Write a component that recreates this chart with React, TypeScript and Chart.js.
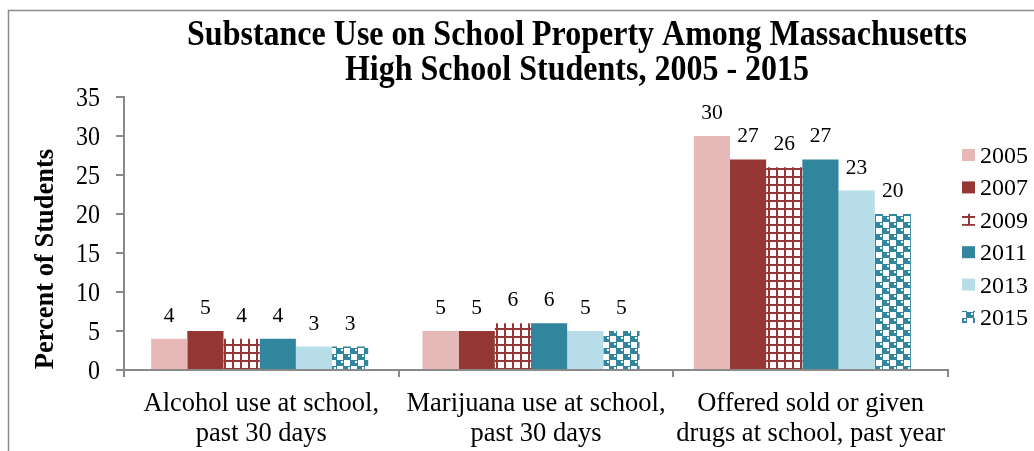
import React, { useEffect, useRef } from 'react';
import { Chart, registerables } from 'chart.js';

Chart.register(...registerables);

const titleLines = ['Substance Use on School Property Among Massachusetts', 'High School Students, 2005 - 2015'];
const yAxisTitle = 'Percent of Students';
const categories = [
  ['Alcohol use at school,', 'past 30 days'],
  ['Marijuana use at school,', 'past 30 days'],
  ['Offered sold or given', 'drugs at school, past year'],
];
const years = ['2005', '2007', '2009', '2011', '2013', '2015'];
const values2005 = [4, 5, 30];
const values2007 = [5, 5, 27];
const values2009 = [4, 6, 26];
const values2011 = [4, 6, 27];
const values2013 = [3, 5, 23];
const values2015 = [3, 5, 20];
const yTickValues = [0, 5, 10, 15, 20, 25, 30, 35];
const yMin = 0;
const yMax = 35;
const yStep = 5;

const SERIF = '"Liberation Serif", "Times New Roman", serif';
const AXIS_GREY = '#898989';

function makeGridPattern(ctx: CanvasRenderingContext2D) {
  const c = document.createElement('canvas');
  c.width = 8;
  c.height = 8;
  const g = c.getContext('2d')!;
  g.fillStyle = '#ffffff';
  g.fillRect(0, 0, 8, 8);
  g.fillStyle = '#953735';
  g.fillRect(0, 0, 8, 2);
  g.fillRect(0, 0, 2, 8);
  return ctx.createPattern(c, 'repeat')!;
}

function makeSpherePattern(ctx: CanvasRenderingContext2D) {
  const c = document.createElement('canvas');
  c.width = 14;
  c.height = 12;
  const g = c.getContext('2d')!;
  g.fillStyle = '#ffffff';
  g.fillRect(0, 0, 14, 12);
  g.fillStyle = '#31859C';
  g.fillRect(0, 0, 8, 6);
  g.fillRect(7, 6, 7, 6);
  g.fillRect(0, 6, 1, 6);
  g.fillStyle = '#ffffff';
  g.fillRect(5, 1, 2, 2);
  g.fillRect(12, 7, 2, 2);
  return ctx.createPattern(c, 'repeat')!;
}

function drawText(
  ctx: CanvasRenderingContext2D,
  text: string,
  x: number,
  baseline: number,
  font: string,
  align: CanvasTextAlign,
  sy: number,
) {
  ctx.save();
  ctx.font = font;
  ctx.textAlign = align;
  ctx.textBaseline = 'alphabetic';
  ctx.translate(x, baseline);
  ctx.scale(1, sy);
  ctx.fillText(text, 0, 0);
  ctx.restore();
}

const extrasPlugin = {
  id: 'extras',
  afterLayout(chart: any) {
    // bars sit on a hidden category axis whose span is slightly shorter than the visible one
    const xb = chart.scales.xb;
    const x = chart.scales.x;
    xb.left = x.left;
    xb.right = x.right - 10;
    xb.width = xb.right - xb.left;
    xb.configure();
  },
  afterDraw(chart: any) {
    const ctx: CanvasRenderingContext2D = chart.ctx;
    const ca = chart.chartArea;
    ctx.save();
    // outer frame
    ctx.strokeStyle = '#8c8c8c';
    ctx.lineWidth = 1.5;
    ctx.strokeRect(8.5, 10.5, 1200, 600);

    ctx.fillStyle = '#000';
    // title
    titleLines.forEach((t, i) => drawText(ctx, t, 577, 45 + i * 35, `bold 32px ${SERIF}`, 'center', 1.1));

    // y axis title
    ctx.save();
    ctx.translate(46, 259);
    ctx.rotate(-Math.PI / 2);
    ctx.font = `bold 26.5px ${SERIF}`;
    ctx.textAlign = 'center';
    ctx.textBaseline = 'middle';
    ctx.fillText(yAxisTitle, 0, 0);
    ctx.restore();

    // y tick labels
    const ys = chart.scales.y;
    yTickValues.forEach((v) => {
      const py = ys.getPixelForValue(v);
      drawText(ctx, String(v), 100, py + 9, `24px ${SERIF}`, 'right', 1.12);
    });

    // x category labels
    const xs = chart.scales.x;
    categories.forEach((lines, i) => {
      const px = xs.getPixelForValue(i);
      lines.forEach((ln, j) => drawText(ctx, ln, px, 411 + j * 30, `26.5px ${SERIF}`, 'center', 1.06));
    });

    // data labels
    chart.data.datasets.forEach((ds: any, di: number) => {
      const meta = chart.getDatasetMeta(di);
      meta.data.forEach((el: any, i: number) => {
        drawText(ctx, String(ds.data[i]), el.x, el.y - 17, `21.5px ${SERIF}`, 'center', 1);
      });
    });

    // legend
    const lx = ca.right + 14;
    const ly0 = 155;
    const lstep = 32.4;
    chart.data.datasets.forEach((ds: any, di: number) => {
      const cy = ly0 + di * lstep;
      ctx.fillStyle = ds.backgroundColor;
      ctx.fillRect(lx, cy - 6, 13, 12);
      ctx.fillStyle = '#000';
      drawText(ctx, ds.label, lx + 18, cy + 8, `24px ${SERIF}`, 'left', 1);
    });
    ctx.restore();
  },
};

export default function App() {
  const ref = useRef<HTMLCanvasElement>(null);
  useEffect(() => {
    const canvas = ref.current!;
    const ctx = canvas.getContext('2d')!;
    const grid = makeGridPattern(ctx);
    const sphere = makeSpherePattern(ctx);
    const colors: any[] = ['#E6B9B8', '#953735', grid, '#31859C', '#B7DEE8', sphere];
    const series = [values2005, values2007, values2009, values2011, values2013, values2015];
    const chart = new Chart(canvas, {
      type: 'bar',
      data: {
        labels: categories as any,
        datasets: series.map((d, i) => ({
          label: years[i],
          data: d,
          xAxisID: 'xb',
          backgroundColor: colors[i],
          borderWidth: 0,
          categoryPercentage: 0.8,
          barPercentage: 1,
        })),
      },
      options: {
        responsive: false,
        animation: false,
        devicePixelRatio: 1,
        layout: { padding: { top: 97, right: 86, left: 0, bottom: 0 } },
        plugins: { legend: { display: false }, title: { display: false }, tooltip: { enabled: false } },
        scales: {
          x: {
            type: 'category',
            offset: true,
            grid: { display: true, offset: true, drawOnChartArea: false, drawTicks: true, tickLength: 7, color: AXIS_GREY, lineWidth: 2 },
            border: { display: true, color: AXIS_GREY, width: 2 },
            ticks: {
              color: 'rgba(0,0,0,0)',
              font: { family: SERIF, size: 26 },
              padding: 8,
              maxRotation: 0,
              autoSkip: false,
            },
            afterFit: (s: any) => { s.height = 81; },
          },
          xb: {
            type: 'category',
            display: false,
            offset: true,
          },
          y: {
            min: yMin,
            max: yMax,
            ticks: { stepSize: yStep, color: 'rgba(0,0,0,0)', font: { family: SERIF, size: 24 }, padding: 16 },
            grid: { drawOnChartArea: false, tickLength: 8, color: AXIS_GREY, lineWidth: 2 },
            border: { display: true, color: AXIS_GREY, width: 2 },
            afterFit: (s: any) => { s.width = 124; },
          },
        },
      },
      plugins: [extrasPlugin],
    });
    return () => chart.destroy();
  }, []);
  return (
    <canvas
      ref={ref}
      width={1034}
      height={451}
      style={{ position: 'fixed', left: 0, top: 0, width: 1034, height: 451, background: '#fff' }}
    />
  );
}
